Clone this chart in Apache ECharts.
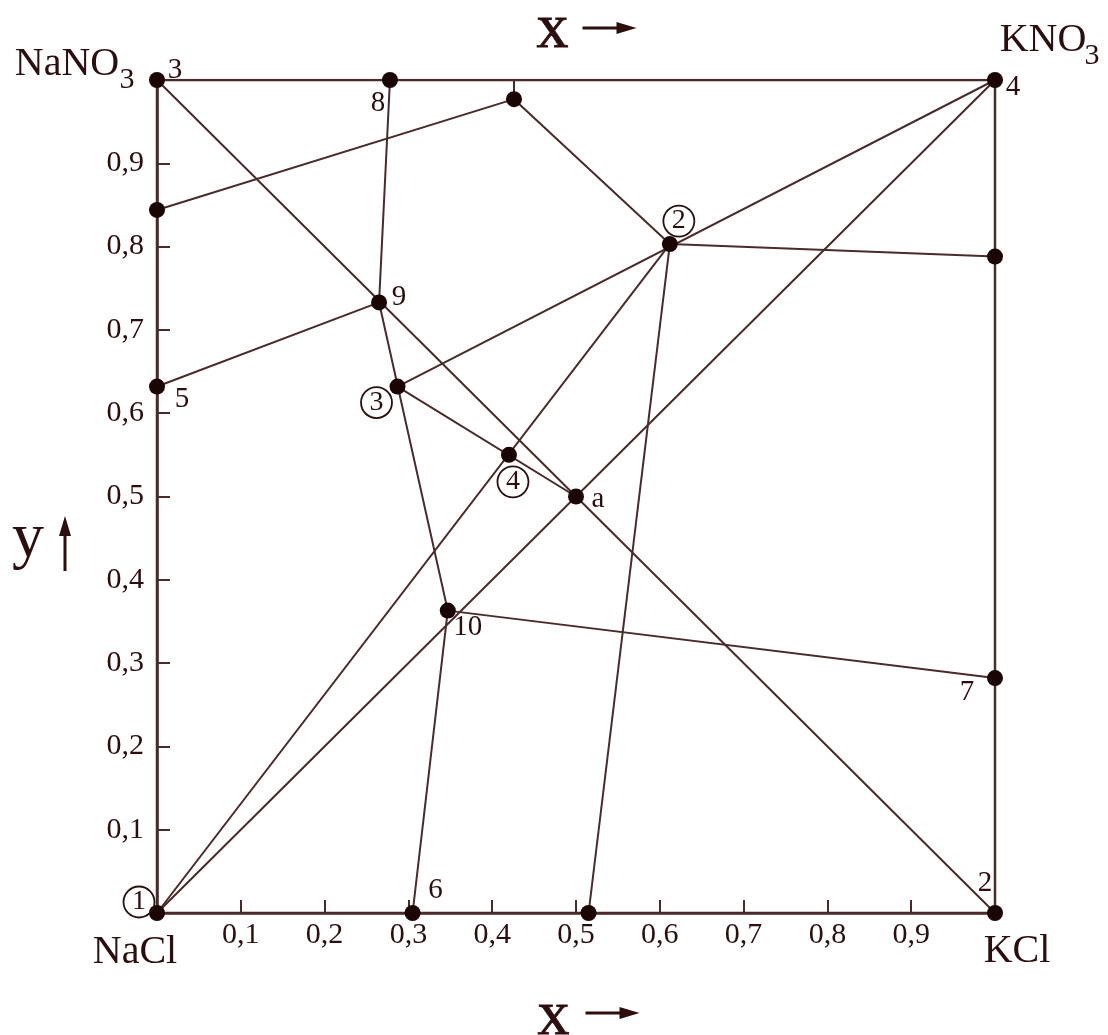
<!DOCTYPE html>
<html>
<head>
<meta charset="utf-8">
<script src="https://cdn.jsdelivr.net/npm/echarts@6/dist/echarts.min.js"></script>
<style>
  html, body { margin: 0; padding: 0; background: #ffffff; }
  #chart { width: 1108px; height: 1035px; }
</style>
</head>
<body>
<div id="chart"></div>
<script>
// Corners of the reciprocal salt system square, as [x, y]
const NaCl  = [0, 0];
const KCl   = [1, 0];
const KNO3  = [1, 1];
const NaNO3 = [0, 1];

// Numbered composition points
const p5  = [0, 0.632];
const p6  = [0.305, 0];
const p7  = [1, 0.282];
const p8  = [0.278, 1];
const p9  = [0.265, 0.733];
const p10 = [0.347, 0.363];
const pa  = [0.5, 0.5];

// Circled points
const c2 = [0.612, 0.803];
const c3 = [0.287, 0.632];
const c4 = [0.420, 0.550];

// Unnamed points on the sides of the square
const sideLeft   = [0, 0.844];
const sideTop    = [0.426, 0.977];
const sideTopEnd = [0.426, 1];
const sideRight  = [1, 0.788];
const sideBottom = [0.515, 0];

// Axis range and tick step
const axisMin = 0;
const axisMax = 1;
const axisStep = 0.1;

// Polylines of the diagram
const border      = [NaCl, KCl, KNO3, NaNO3, NaCl];
const diagonalA   = [NaCl, pa, KNO3];
const diagonalB   = [NaNO3, pa, KCl];
const rayToC2     = [NaCl, c2];
const rayC3       = [c3, KNO3];
const c3ToA       = [c3, pa];
const chain8to6   = [p8, p9, p10, p6];
const link5to9    = [p5, p9];
const link10to7   = [p10, p7];
const upperPath   = [sideLeft, sideTop, c2, sideRight];
const topStub     = [sideTop, sideTopEnd];
const c2ToBottom  = [c2, sideBottom];

const allPoints = [NaCl, KCl, KNO3, NaNO3, p5, p6, p7, p8, p9, p10, pa,
                   c2, c3, c4, sideLeft, sideTop, sideRight, sideBottom];

const INK = '#2c0e0e';
const LINE = '#4a2a2a';
const DOT = '#1a0404';
const SERIF = '"Liberation Serif", "DejaVu Serif", serif';

// Text attached to points: [point, text, dx, dy, kind]
const pointLabels = [
  [NaNO3, 'NaNO', -90, -16, 'name'],
  [NaNO3, '3', -30, 0, 'sub'],
  [NaNO3, '3', 18, -10, 'num'],
  [KNO3, 'KNO', 48, -40, 'name'],
  [KNO3, '3', 97, -24, 'sub'],
  [KNO3, '4', 18, 7, 'num'],
  [NaCl, 'NaCl', -22, 39, 'name'],
  [KCl, 'KCl', 22, 38, 'name'],
  [KCl, '2', -10, -30, 'num'],
  [NaCl, '1', -18, -11, 'circ'],
  [p5, '5', 25, 13, 'num'],
  [p6, '6', 23, -23, 'num'],
  [p7, '7', -28, 14, 'num'],
  [p8, '8', -12, 23, 'num'],
  [p9, '9', 20, -5, 'num'],
  [p10, '10', 20, 17, 'num'],
  [pa, 'a', 22, 3, 'num'],
  [c2, '2', 9, -23, 'circ'],
  [c3, '3', -21, 16, 'circ'],
  [c4, '4', 4, 27, 'circ']
];

const labelSizes = { name: 40, sub: 30, num: 29 };

function lineSeries(pts, width) {
  return {
    type: 'line',
    data: pts,
    symbol: 'none',
    silent: true,
    animation: false,
    z: 2,
    lineStyle: { color: LINE, width: width || 2 }
  };
}

function tickText(v) {
  if (Math.abs(v - axisMin) < 1e-9 || Math.abs(v - axisMax) < 1e-9) return '';
  return v.toFixed(1).replace('.', ',');
}

const labelData = pointLabels.map(([pt, text, dx, dy, kind]) => {
  const base = {
    show: true,
    position: 'inside',
    offset: [dx, dy],
    color: INK,
    textBorderWidth: 0,
    textBorderColor: 'transparent',
    fontFamily: SERIF
  };
  if (kind === 'circ') {
    return {
      value: pt,
      label: Object.assign(base, {
        formatter: '{c|' + text + '}',
        rich: {
          c: {
            width: 31, height: 31, lineHeight: 31,
            borderRadius: 16, borderWidth: 1.8, borderColor: INK,
            align: 'center', verticalAlign: 'middle',
            fontSize: 28, color: INK, fontFamily: SERIF,
            textBorderWidth: 0
          }
        }
      })
    };
  }
  return {
    value: pt,
    label: Object.assign(base, {
      formatter: text,
      fontSize: labelSizes[kind]
    })
  };
});

const chart = echarts.init(document.getElementById('chart'), null, { renderer: 'canvas' });

const axisCommon = {
  type: 'value',
  min: axisMin,
  max: axisMax,
  interval: axisStep,
  splitLine: { show: false },
  axisLine: { show: true, lineStyle: { color: LINE, width: 2.5 } },
  axisTick: { show: true, inside: true, length: 13, lineStyle: { color: LINE, width: 2 } },
  axisLabel: {
    formatter: tickText,
    color: INK,
    fontFamily: SERIF,
    fontSize: 30
  }
};

chart.setOption({
  backgroundColor: '#ffffff',
  animation: false,
  grid: { left: 157, right: 113, top: 80, bottom: 122 },
  xAxis: Object.assign({}, axisCommon, {
    axisLabel: Object.assign({}, axisCommon.axisLabel, { margin: 7 })
  }),
  yAxis: Object.assign({}, axisCommon, {
    axisLabel: Object.assign({}, axisCommon.axisLabel, { margin: 13 })
  }),
  series: [
    lineSeries(border, 2.5),
    lineSeries(diagonalA),
    lineSeries(diagonalB),
    lineSeries(rayToC2),
    lineSeries(rayC3),
    lineSeries(c3ToA),
    lineSeries(chain8to6),
    lineSeries(link5to9),
    lineSeries(link10to7),
    lineSeries(upperPath),
    lineSeries(topStub),
    lineSeries(c2ToBottom),
    {
      type: 'scatter',
      data: allPoints,
      symbol: 'circle',
      symbolSize: 16,
      itemStyle: { color: DOT, opacity: 1 },
      silent: true,
      z: 5
    },
    {
      type: 'scatter',
      data: labelData,
      symbolSize: 0,
      itemStyle: { color: INK, opacity: 1 },
      silent: true,
      z: 6
    }
  ],
  graphic: [
    // axis direction captions
    { type: 'text', left: 536, top: -2, silent: true,
      style: { text: 'x', font: '64px ' + SERIF, fill: INK, stroke: INK, lineWidth: 0.8 } },
    { type: 'group', left: 580, top: 22, silent: true, children: [
      { type: 'line', shape: { x1: 0, y1: 6, x2: 40, y2: 6 }, style: { stroke: INK, lineWidth: 3 } },
      { type: 'polygon', shape: { points: [[34, 0], [54, 6], [34, 12]] }, style: { fill: INK } }
    ] },
    { type: 'text', left: 537, top: 985, silent: true,
      style: { text: 'x', font: '64px ' + SERIF, fill: INK, stroke: INK, lineWidth: 0.8 } },
    { type: 'group', left: 583, top: 1007, silent: true, children: [
      { type: 'line', shape: { x1: 0, y1: 6, x2: 40, y2: 6 }, style: { stroke: INK, lineWidth: 3 } },
      { type: 'polygon', shape: { points: [[34, 0], [54, 6], [34, 12]] }, style: { fill: INK } }
    ] },
    { type: 'text', left: 12, top: 507, silent: true,
      style: { text: 'y', font: '64px ' + SERIF, fill: INK } },
    { type: 'group', left: 59, top: 516, silent: true, children: [
      { type: 'line', shape: { x1: 6, y1: 14, x2: 6, y2: 55 }, style: { stroke: INK, lineWidth: 3 } },
      { type: 'polygon', shape: { points: [[0, 20], [6, 0], [12, 20]] }, style: { fill: INK } }
    ] }
  ]
});
</script>
</body>
</html>
